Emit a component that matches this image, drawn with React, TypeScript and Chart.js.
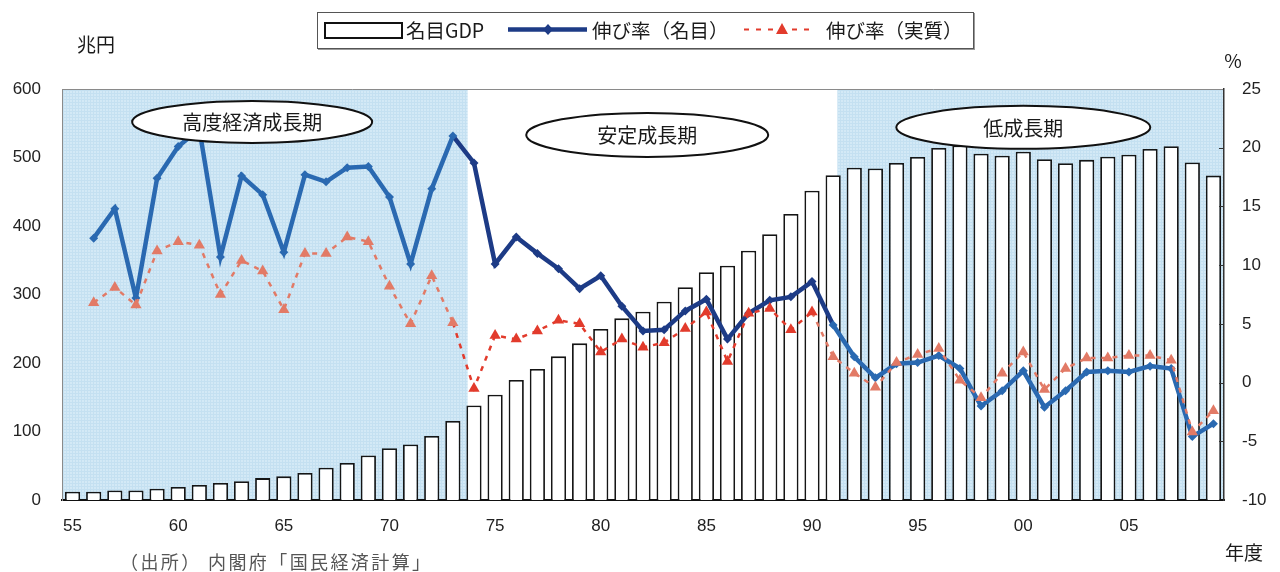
import { useEffect, useRef } from 'react';
import { Chart, registerables } from 'chart.js';

Chart.register(...registerables);

// Fiscal years 1955–2009 (two-digit labels)
const fiscalYears = [
  '55', '56', '57', '58', '59', '60', '61', '62', '63', '64',
  '65', '66', '67', '68', '69', '70', '71', '72', '73', '74',
  '75', '76', '77', '78', '79', '80', '81', '82', '83', '84',
  '85', '86', '87', '88', '89', '90', '91', '92', '93', '94',
  '95', '96', '97', '98', '99', '00', '01', '02', '03', '04',
  '05', '06', '07', '08', '09',
];

// Years that get a label on the horizontal axis
const axisYears = ['55', '60', '65', '70', '75', '80', '85', '90', '95', '00', '05'];

// Nominal GDP, trillion yen
const nominalGdp = [
  12, 12, 14, 14, 16.5, 19, 22, 25, 27.5, 32,
  34.5, 39.5, 47, 54, 65, 75.5, 81, 93.5, 115.5, 138,
  153.8, 175.2, 191.2, 209.7, 228.7, 249.6, 265.2, 274.9, 289.5, 310.5,
  332.4, 342, 364, 388, 417.5, 451.5, 474, 485, 484, 492,
  500.7, 514, 517.6, 505.4, 502.5, 508.4, 497.5, 491.6, 496.6, 501,
  504, 512.3, 516.6, 492.7, 473.6,
];

// Nominal growth rate, %
const nominalGrowth = [
  null, 12.3, 14.8, 7.2, 17.4, 20.1, 21.6, 10.7, 17.6, 16.0,
  11.1, 17.7, 17.1, 18.3, 18.4, 15.8, 10.1, 16.5, 21.0, 18.7,
  10.1, 12.4, 11.0, 9.7, 8.0, 9.1, 6.5, 4.4, 4.5, 6.1,
  7.1, 3.7, 5.9, 7.0, 7.3, 8.6, 4.9, 2.2, 0.4, 1.6,
  1.7, 2.3, 1.2, -2.0, -0.7, 1.0, -2.1, -0.7, 0.9, 1.0,
  0.9, 1.4, 1.2, -4.6, -3.5,
];

// Real growth rate, %
const realGrowth = [
  null, 6.8, 8.1, 6.6, 11.2, 12.0, 11.7, 7.5, 10.4, 9.5,
  6.2, 11.0, 11.0, 12.4, 12.0, 8.2, 5.0, 9.1, 5.1, -0.5,
  4.0, 3.7, 4.4, 5.3, 5.0, 2.6, 3.7, 3.0, 3.4, 4.6,
  6.0, 1.8, 5.9, 6.3, 4.5, 6.0, 2.2, 0.8, -0.4, 1.7,
  2.4, 2.9, 0.2, -1.3, 0.8, 2.6, -0.6, 1.2, 2.1, 2.1,
  2.3, 2.3, 1.9, -4.2, -2.4,
];

// Period names shown in the ellipses
const periodNames = ['高度経済成長期', '安定成長期', '低成長期'];

// ---- styling ----
const FONT_NUM = '"Liberation Sans", Arial, sans-serif';
const FONT_JP = '"Noto Sans CJK JP", "Noto Sans", sans-serif';
const NAVY = '#1d3b86';
const BLUE = '#2a69b1';
const RED = '#e23b2c';
const SALMON = '#e27a66';

// stable-growth period spans category indexes 19..35 (FY1974–FY1990)
const inStablePeriod = (i: number) => i >= 19 && i <= 35;

// shaded bands, in category-index units
const bands: Array<[number, number]> = [
  [-0.5, 18.7],
  [36.2, 54.5],
];

// ellipse anchors: [category index, GDP value, rx, ry]
const ellipseAnchors: Array<[number, number, number, number]> = [
  [8.5, 552, 120, 21],
  [27.2, 533, 121, 22],
  [45.0, 544, 127, 21.5],
];

function makeBandPattern(ctx: CanvasRenderingContext2D) {
  const c = document.createElement('canvas');
  c.width = 3;
  c.height = 3;
  const p = c.getContext('2d')!;
  p.fillStyle = '#d3e9f6';
  p.fillRect(0, 0, 3, 3);
  p.fillStyle = '#c4e0f1';
  p.fillRect(0, 0, 3, 1);
  p.fillRect(0, 0, 1, 3);
  return ctx.createPattern(c, 'repeat') || '#d3e9f6';
}

const backdrop = {
  id: 'backdrop',
  beforeDraw(chart: any) {
    const { ctx, chartArea: a, scales } = chart;
    const x = scales.x;
    ctx.save();
    ctx.fillStyle = '#ffffff';
    ctx.fillRect(0, 0, chart.width, chart.height);
    const step = x.getPixelForValue(1) - x.getPixelForValue(0);
    const x0 = x.getPixelForValue(0);
    ctx.fillStyle = makeBandPattern(ctx);
    for (const [from, to] of bands) {
      const l = Math.max(a.left, x0 + from * step);
      const r = Math.min(a.right, x0 + to * step);
      ctx.fillRect(l, a.top, r - l, a.bottom - a.top);
    }
    // top edge of the plot frame
    ctx.strokeStyle = '#8a8a8a';
    ctx.lineWidth = 1;
    ctx.beginPath();
    ctx.moveTo(a.left, a.top + 0.5);
    ctx.lineTo(a.right, a.top + 0.5);
    ctx.stroke();
    ctx.restore();
  },
  afterDatasetsDraw(chart: any) {
    const { ctx, scales } = chart;
    const x = scales.x;
    const y = scales.gdp;
    const rate = scales.rate;
    const a = chart.chartArea;
    ctx.save();
    // inward ticks on the right axis
    ctx.strokeStyle = '#333';
    ctx.lineWidth = 1;
    for (let v = -5; v < 25; v += 5) {
      const py = Math.round(rate.getPixelForValue(v)) + 0.5;
      ctx.beginPath();
      ctx.moveTo(a.right - 5, py);
      ctx.lineTo(a.right, py);
      ctx.stroke();
    }
    // period ellipses
    const step = x.getPixelForValue(1) - x.getPixelForValue(0);
    const x0 = x.getPixelForValue(0);
    periodNames.forEach((name, i) => {
      const [ci, val, rx, ry] = ellipseAnchors[i];
      const cx = x0 + ci * step;
      const cy = y.getPixelForValue(val);
      ctx.beginPath();
      ctx.ellipse(cx, cy, rx, ry, 0, 0, Math.PI * 2);
      ctx.fillStyle = '#ffffff';
      ctx.fill();
      ctx.lineWidth = 2;
      ctx.strokeStyle = '#111';
      ctx.stroke();
      ctx.fillStyle = '#1a1a1a';
      ctx.font = `20px ${FONT_JP}`;
      ctx.textAlign = 'center';
      ctx.textBaseline = 'middle';
      ctx.fillText(name, cx, cy + 1);
    });
    ctx.restore();
  },
  afterDraw(chart: any) {
    const { ctx } = chart;
    ctx.save();
    ctx.fillStyle = '#1a1a1a';
    ctx.textBaseline = 'middle';
    ctx.font = `19px ${FONT_JP}`;
    ctx.textAlign = 'center';
    ctx.fillText('兆円', 96, 45);
    ctx.fillText('%', 1233, 61);
    ctx.fillText('年度', 1244, 553);

    // source note
    ctx.fillStyle = '#555';
    ctx.font = `18px ${FONT_JP}`;
    ctx.textAlign = 'left';
    const note = '（出所） 内閣府「国民経済計算」';
    const w = ctx.measureText(note).width;
    const target = 310;
    (ctx as any).letterSpacing = `${Math.max(0, (target - w) / (note.length - 1)).toFixed(2)}px`;
    ctx.fillText(note, 120, 562);
    (ctx as any).letterSpacing = '0px';

    // legend
    ctx.fillStyle = '#ffffff';
    ctx.fillRect(317, 12, 656, 36);
    ctx.strokeStyle = '#9a9a9a';
    ctx.lineWidth = 2;
    ctx.beginPath();
    ctx.moveTo(318, 49);
    ctx.lineTo(974, 49);
    ctx.lineTo(974, 13);
    ctx.stroke();
    ctx.strokeStyle = '#555';
    ctx.lineWidth = 1;
    ctx.strokeRect(317.5, 12.5, 656, 36);

    ctx.strokeStyle = '#111';
    ctx.lineWidth = 2;
    ctx.strokeRect(325, 23, 77, 15);

    ctx.fillStyle = '#1a1a1a';
    ctx.font = `19.5px ${FONT_JP}`;
    ctx.textBaseline = 'middle';
    ctx.fillText('名目GDP', 406, 31);

    ctx.strokeStyle = NAVY;
    ctx.lineWidth = 4.5;
    ctx.beginPath();
    ctx.moveTo(508, 29.5);
    ctx.lineTo(587, 29.5);
    ctx.stroke();
    ctx.fillStyle = NAVY;
    ctx.beginPath();
    ctx.moveTo(548, 24);
    ctx.lineTo(553, 29.5);
    ctx.lineTo(548, 35);
    ctx.lineTo(543, 29.5);
    ctx.closePath();
    ctx.fill();

    ctx.fillStyle = '#1a1a1a';
    ctx.fillText('伸び率（名目）', 592, 31);

    ctx.strokeStyle = RED;
    ctx.lineWidth = 2;
    ctx.setLineDash([5, 7]);
    ctx.beginPath();
    ctx.moveTo(744, 29.5);
    ctx.lineTo(812, 29.5);
    ctx.stroke();
    ctx.setLineDash([]);
    ctx.fillStyle = RED;
    ctx.beginPath();
    ctx.moveTo(782, 23);
    ctx.lineTo(788, 34);
    ctx.lineTo(776, 34);
    ctx.closePath();
    ctx.fill();

    ctx.fillStyle = '#1a1a1a';
    ctx.fillText('伸び率（実質）', 826, 31);
    ctx.restore();
  },
};

export default function App() {
  const canvasRef = useRef<HTMLCanvasElement | null>(null);

  useEffect(() => {
    const canvas = canvasRef.current;
    if (!canvas) return;

    const chart = new Chart(canvas, {
      type: 'bar',
      data: {
        labels: fiscalYears,
        datasets: [
          {
            type: 'line',
            label: '伸び率(実質)',
            data: realGrowth,
            yAxisID: 'rate',
            order: 1,
            borderColor: RED,
            borderWidth: 2.5,
            borderDash: [5, 6],
            segment: {
              borderColor: (c: any) => (inStablePeriod(c.p1DataIndex) ? RED : SALMON),
            },
            tension: 0,
            pointStyle: 'triangle',
            pointRadius: 6.5,
            pointBorderWidth: 0,
            pointBackgroundColor: (c: any) => (inStablePeriod(c.dataIndex) ? RED : SALMON),
          } as any,
          {
            type: 'line',
            label: '伸び率(名目)',
            data: nominalGrowth,
            yAxisID: 'rate',
            order: 2,
            borderColor: NAVY,
            borderWidth: 4.5,
            segment: {
              borderColor: (c: any) =>
                c.p0DataIndex >= 18 && c.p0DataIndex <= 35 ? NAVY : BLUE,
            },
            tension: 0,
            pointStyle: 'rectRot',
            pointRadius: 4.5,
            pointBorderWidth: 0,
            pointBackgroundColor: (c: any) => (inStablePeriod(c.dataIndex) ? NAVY : BLUE),
          } as any,
          {
            type: 'bar',
            label: '名目GDP',
            data: nominalGdp,
            yAxisID: 'gdp',
            order: 3,
            backgroundColor: '#ffffff',
            borderColor: '#151515',
            borderWidth: 1.8,
            barPercentage: 0.72,
            categoryPercentage: 1,
          } as any,
        ],
      },
      options: {
        responsive: false,
        animation: false,
        layout: { padding: { top: 89, left: 0, right: 0, bottom: 0 } },
        plugins: {
          legend: { display: false },
          tooltip: { enabled: false },
          title: { display: false },
        },
        scales: {
          x: {
            grid: { display: false, drawTicks: false },
            border: { color: '#111', width: 2 },
            ticks: {
              autoSkip: false,
              maxRotation: 0,
              minRotation: 0,
              padding: 16,
              color: '#222',
              font: { family: FONT_NUM, size: 17 },
              callback: (_v: any, i: number) =>
                axisYears.includes(fiscalYears[i]) ? fiscalYears[i] : '',
            },
            afterFit: (s: any) => {
              s.height = 72;
            },
          },
          gdp: {
            type: 'linear',
            position: 'left',
            min: 0,
            max: 600,
            grid: { display: false, drawTicks: false },
            border: { color: '#8a8a8a', width: 1 },
            ticks: {
              stepSize: 100,
              padding: 21,
              color: '#222',
              font: { family: FONT_NUM, size: 17 },
            },
            afterFit: (s: any) => {
              s.width = 62;
            },
          },
          rate: {
            type: 'linear',
            position: 'right',
            min: -10,
            max: 25,
            grid: { display: false, drawTicks: false },
            border: { color: '#333', width: 1.5 },
            ticks: {
              stepSize: 5,
              padding: 18,
              color: '#222',
              font: { family: FONT_NUM, size: 17 },
            },
            afterFit: (s: any) => {
              s.width = 56;
            },
          },
        },
      } as any,
      plugins: [backdrop],
    });

    return () => chart.destroy();
  }, []);

  return (
    <div style={{ position: 'absolute', left: 0, top: 0, width: 1280, height: 572, background: '#fff' }}>
      <canvas ref={canvasRef} width={1280} height={572} style={{ display: 'block' }} />
    </div>
  );
}
